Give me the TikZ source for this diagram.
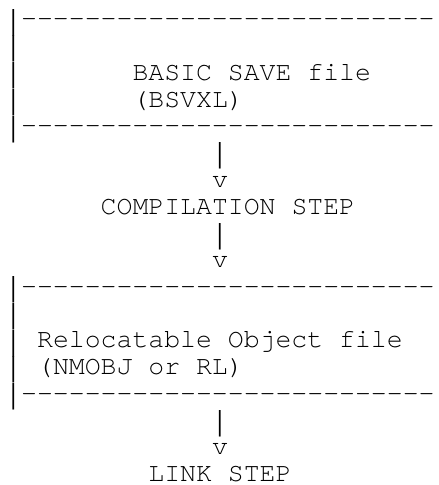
\documentclass[tikz,border=0pt]{standalone}
\usepackage{fontspec}
\usepackage{graphicx}
\newfontfamily\monofam{TeX Gyre Cursor}[Ligatures={NoCommon}]
\newcommand\dashrow{\foreach \k in {1,...,26}{\hbox{-}}}
\newcommand\vbarglyph{\makebox[15.9pt][c]{\raisebox{-8.9pt}[17.5pt][8.9pt]{\resizebox*{1.6\width}{26.5pt}{\raisebox{\depth}{|}}}}}
\tikzset{
  txt/.style={anchor=base west, inner sep=0pt, outer sep=0pt,
    font=\monofam\fontsize{26.5}{26.75}\selectfont, text=black}
}
\begin{document}
\begin{tikzpicture}[x=15.9pt,y=-26.75pt]
\useasboundingbox (0pt,0pt) rectangle (439pt,-485pt);
\begin{scope}[xshift=5.3pt]
% first box
\node[txt] (t1) at (0,1) {\vbarglyph\dashrow};
\node[txt] (b2) at (0,2) {\vbarglyph};
\node[txt] (b3) at (0,3) {\vbarglyph};
\node[txt] (basic) at (8,3) {BASIC SAVE file};
\node[txt] (b4) at (0,4) {\vbarglyph};
\node[txt] (bsvxl) at (8,4) {(BSVXL)};
\node[txt] (t5) at (0,5) {\vbarglyph\dashrow};
% arrow to compilation
\node[txt] (a6) at (13,6) {\vbarglyph};
\node[txt] (v7) at (13,7) {v};
\node[txt] (comp) at (6,8) {COMPILATION STEP};
\node[txt] (a9) at (13,9) {\vbarglyph};
\node[txt] (v10) at (13,10) {v};
% second box
\node[txt] (t11) at (0,11) {\vbarglyph\dashrow};
\node[txt] (b12) at (0,12) {\vbarglyph};
\node[txt] (b13) at (0,13) {\vbarglyph};
\node[txt] (reloc) at (2,13) {Relocatable Object file};
\node[txt] (b14) at (0,14) {\vbarglyph};
\node[txt] (nmobj) at (2,14) {(NMOBJ or RL)};
\node[txt] (t15) at (0,15) {\vbarglyph\dashrow};
% arrow to link
\node[txt] (a16) at (13,16) {\vbarglyph};
\node[txt] (v17) at (13,17) {v};
\node[txt] (link) at (9,18) {LINK STEP};
\end{scope}
\end{tikzpicture}
\end{document}
